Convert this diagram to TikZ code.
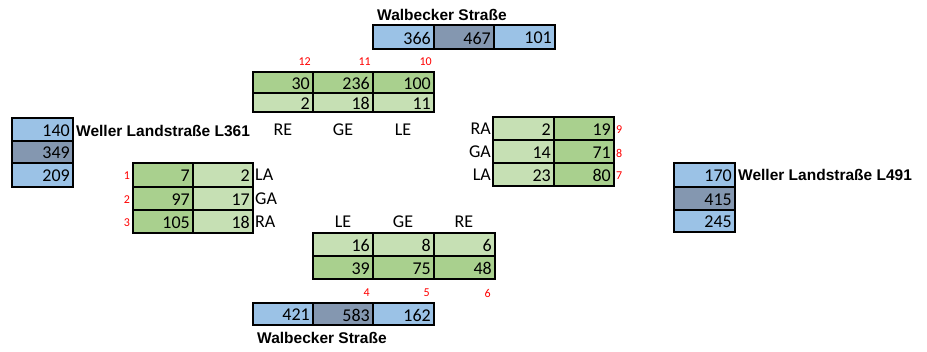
\documentclass[tikz,border=0pt]{standalone}
\usepackage{fontspec}
\setmainfont{Carlito}
\newfontfamily\labfont{Liberation Sans}
\definecolor{gdark}{HTML}{A9D08E}
\definecolor{glight}{HTML}{C6E0B4}
\definecolor{blight}{HTML}{9BC2E6}
\definecolor{bdark}{HTML}{8497B0}
\definecolor{rednum}{HTML}{FF0000}
\tikzset{
  cellbox/.style={draw=black, line width=1.8pt, inner sep=0pt, outer sep=0pt, rectangle},
  numtext/.style={anchor=east, inner sep=0pt, font=\fontsize{18}{19}\selectfont},
  dirlab/.style={inner sep=0pt, font=\fontsize{18}{19}\selectfont},
  rednode/.style={inner sep=0pt, text=rednum, font=\fontsize{12}{13}\selectfont},
  streetlab/.style={anchor=west, inner sep=0pt, font=\labfont\bfseries\fontsize{15.5}{16}\selectfont}
}
% name, x, y, w, h, fill, text
\newcommand{\mycell}[7]{%
  \node[cellbox, fill=#6, minimum width=#4, minimum height=#5, anchor=north west] (#1) at (#2,#3) {};
  \node[numtext] (#1t) at ([xshift=-3pt,yshift=-1pt]#1.east) {#7};
}
\begin{document}
\begin{tikzpicture}[x=1pt,y=-1pt]
\useasboundingbox[fill=white] (0,0) rectangle (927,351);

% top street
\node[streetlab] (wtop) at (377,15) {Walbecker Straße};
\mycell{tb1}{373}{25}{61}{24}{blight}{366}
\mycell{tb2}{434}{25}{60}{24}{bdark}{467}
\mycell{tb3}{494}{25}{61}{24}{blight}{101}

% top green block
\mycell{tg11}{253}{72}{60}{21}{gdark}{30}
\mycell{tg12}{313}{72}{60}{21}{gdark}{236}
\mycell{tg13}{373}{72}{61}{21}{gdark}{100}
\mycell{tg21}{253}{93}{60}{19}{glight}{2}
\mycell{tg22}{313}{93}{60}{19}{glight}{18}
\mycell{tg23}{373}{93}{61}{19}{glight}{11}
\node[rednode, anchor=east] (r12) at (311,62) {12};
\node[rednode, anchor=east] (r11) at (371,62) {11};
\node[rednode, anchor=east] (r10) at (432,62) {10};
\node[dirlab] (tRE) at (283,130) {RE};
\node[dirlab] (tGE) at (343,130) {GE};
\node[dirlab] (tLE) at (403,130) {LE};

% left street
\mycell{lb1}{12}{118}{61}{23}{blight}{140}
\mycell{lb2}{12}{141}{61}{22}{bdark}{349}
\mycell{lb3}{12}{163}{61}{24}{blight}{209}
\node[streetlab] (wleft) at (76,131) {Weller Landstraße L361};

% left green block
\mycell{lg11}{133}{163}{60}{24}{gdark}{7}
\mycell{lg12}{193}{163}{60}{24}{glight}{2}
\mycell{lg21}{133}{187}{60}{23}{gdark}{97}
\mycell{lg22}{193}{187}{60}{23}{glight}{17}
\mycell{lg31}{133}{210}{60}{23}{gdark}{105}
\mycell{lg32}{193}{210}{60}{23}{glight}{18}
\node[dirlab, anchor=west] (lLA) at (255,175) {LA};
\node[dirlab, anchor=west] (lGA) at (255,198.5) {GA};
\node[dirlab, anchor=west] (lRA) at (255,221.5) {RA};
\node[rednode] (r1) at (127,176) {1};
\node[rednode] (r2) at (127,199.5) {2};
\node[rednode] (r3) at (127,222.5) {3};

% right green block
\mycell{rg11}{493}{117}{61}{23}{glight}{2}
\mycell{rg12}{554}{117}{60}{23}{gdark}{19}
\mycell{rg21}{493}{140}{61}{23}{glight}{14}
\mycell{rg22}{554}{140}{60}{23}{gdark}{71}
\mycell{rg31}{493}{163}{61}{23}{glight}{23}
\mycell{rg32}{554}{163}{60}{23}{gdark}{80}
\node[dirlab, anchor=east] (rRA) at (491,128.5) {RA};
\node[dirlab, anchor=east] (rGA) at (491,151.5) {GA};
\node[dirlab, anchor=east] (rLA) at (491,174.5) {LA};
\node[rednode, anchor=west] (r9) at (616,130) {9};
\node[rednode, anchor=west] (r8) at (616,153) {8};
\node[rednode, anchor=west] (r7) at (616,176) {7};

% right street
\mycell{rb1}{674}{163}{61}{24}{blight}{170}
\mycell{rb2}{674}{187}{61}{23}{bdark}{415}
\mycell{rb3}{674}{210}{61}{22}{blight}{245}
\node[streetlab] (wright) at (738,175) {Weller Landstraße L491};

% bottom green block
\node[dirlab] (bLE) at (343,222) {LE};
\node[dirlab] (bGE) at (403,222) {GE};
\node[dirlab] (bRE) at (464,222) {RE};
\mycell{bg11}{313}{233}{60}{23}{glight}{16}
\mycell{bg12}{373}{233}{61}{23}{glight}{8}
\mycell{bg13}{434}{233}{61}{23}{glight}{6}
\mycell{bg21}{313}{256}{60}{23}{gdark}{39}
\mycell{bg22}{373}{256}{61}{23}{gdark}{75}
\mycell{bg23}{434}{256}{61}{23}{gdark}{48}
\node[rednode, anchor=east] (r4) at (370,293) {4};
\node[rednode, anchor=east] (r5) at (430,293) {5};
\node[rednode, anchor=east] (r6) at (491,293) {6};

% bottom street
\mycell{bb1}{253}{303}{60}{22}{blight}{421}
\mycell{bb2}{313}{303}{60}{22}{bdark}{583}
\mycell{bb3}{373}{303}{61}{22}{blight}{162}
\node[streetlab] (wbot) at (257,338) {Walbecker Straße};
\end{tikzpicture}
\end{document}
